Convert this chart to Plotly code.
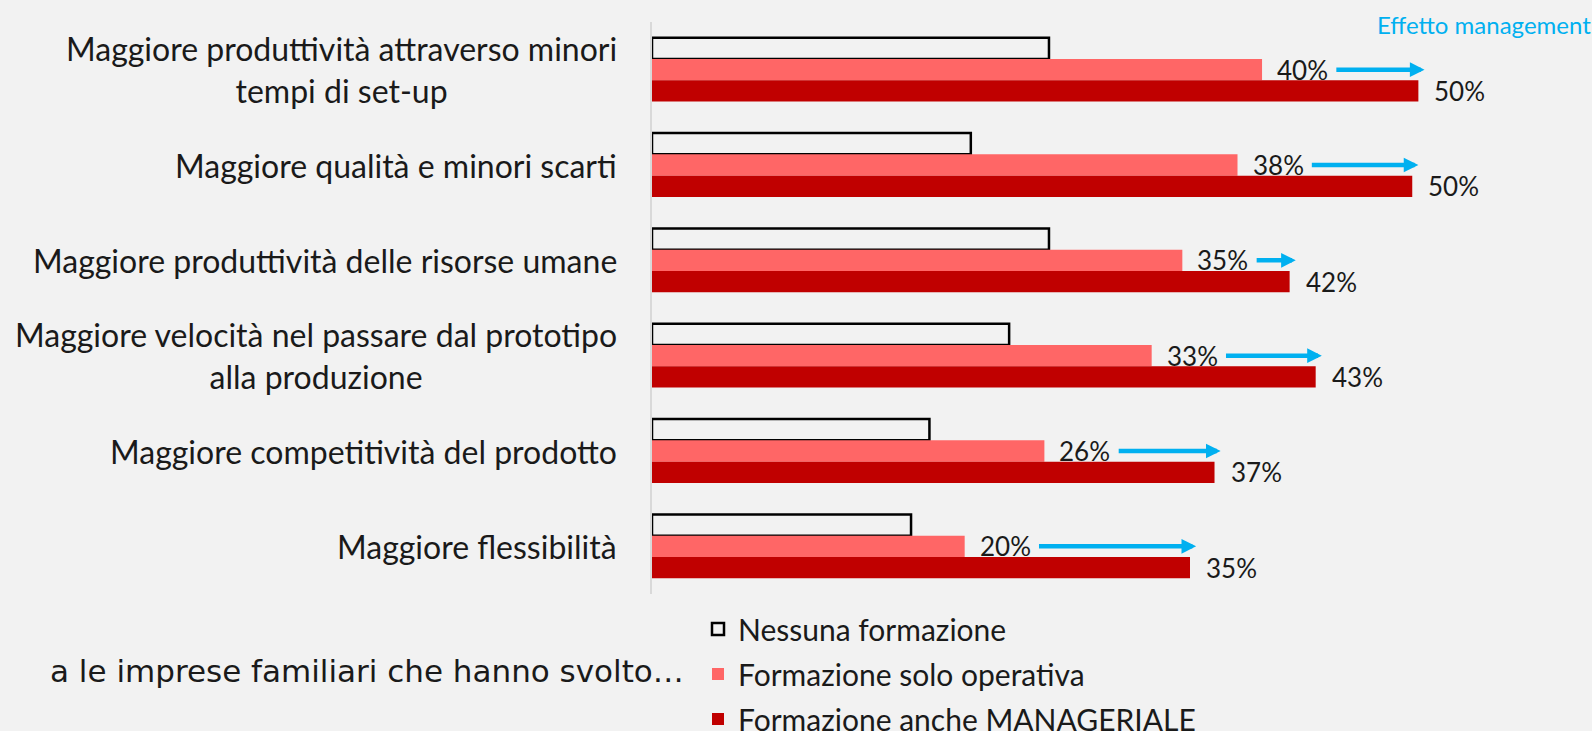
import plotly.graph_objects as go

categories = [
    "Maggiore produttività attraverso minori<br>tempi di set-up",
    "Maggiore qualità e minori scarti",
    "Maggiore produttività delle risorse umane",
    "Maggiore velocità nel passare dal prototipo<br>alla produzione",
    "Maggiore competitività del prodotto",
    "Maggiore flessibilità",
]
nessuna = [25.9, 20.8, 25.9, 23.3, 18.1, 16.9]
operativa = [39.8, 38.2, 34.6, 32.6, 25.6, 20.4]
manageriale = [50.0, 49.6, 41.6, 43.3, 36.7, 35.1]
series_names = ["Nessuna formazione", "Formazione solo operativa", "Formazione anche MANAGERIALE"]
effect_title = "Effetto management"
subtitle = "a le imprese familiari che hanno svolto…"

BG = "#F2F2F2"
FONT = "Lato"
TXT = "#1a1a1a"
CYAN = "#00B0F0"
BARGAP = 0.33
W = (1 - BARGAP) / 3

fig = go.Figure()
fig.add_trace(go.Bar(y=categories, x=nessuna, orientation="h", name=series_names[0],
                     marker=dict(color=BG, line=dict(color="#000000", width=2.5)),
                     legendgroup="a", hoverinfo="x"))
fig.add_trace(go.Bar(y=categories, x=operativa, orientation="h", name=series_names[1],
                     marker=dict(color="#FF6666", line=dict(width=0)),
                     legendgroup="b", hoverinfo="x"))
fig.add_trace(go.Bar(y=categories, x=manageriale, orientation="h", name=series_names[2],
                     marker=dict(color="#C00000", line=dict(width=0)),
                     legendgroup="c", hoverinfo="x"))

ann = []
for i, cat in enumerate(categories):
    # category label
    ann.append(dict(x=0, y=i, xref="x", yref="y", text=cat, showarrow=False,
                    xanchor="right", yanchor="middle", align="center", xshift=-33,
                    font=dict(family=FONT, size=32, color=TXT)))
    # operativa label
    ann.append(dict(x=operativa[i], y=i, xref="x", yref="y", text=f"{operativa[i]:.0f}%",
                    showarrow=False, xanchor="left", yanchor="middle", xshift=13,
                    font=dict(family=FONT, size=26, color=TXT)))
    # manageriale label
    ann.append(dict(x=manageriale[i], y=i + W, xref="x", yref="y", text=f"{manageriale[i]:.0f}%",
                    showarrow=False, xanchor="left", yanchor="middle", xshift=14,
                    font=dict(family=FONT, size=26, color=TXT)))
    # arrow
    ann.append(dict(x=manageriale[i] + 0.4, y=i, xref="x", yref="y",
                    ax=operativa[i] + 4.75, ay=i, axref="x", ayref="y",
                    text="", showarrow=True, arrowhead=2, arrowsize=0.65,
                    arrowwidth=4.5, arrowcolor=CYAN, standoff=0))

L, R, T, B = 652, 51, 22, 137
PW, PH = 1592 - L - R, 731 - T - B
ann.append(dict(x=(1593 - L) / PW, y=(731 - 25 - B) / PH, xref="paper", yref="paper",
                text=effect_title, showarrow=False, xanchor="right", yanchor="middle",
                font=dict(family=FONT, size=24, color=CYAN)))
ann.append(dict(x=(686 - L) / PW, y=(731 - 671 - B) / PH, xref="paper", yref="paper",
                text=subtitle, showarrow=False, xanchor="right", yanchor="middle",
                font=dict(family="DejaVu Sans", size=31, color=TXT)))

fig.update_layout(
    width=1592, height=731,
    margin=dict(l=L, r=R, t=T, b=B, pad=0, autoexpand=False),
    paper_bgcolor=BG, plot_bgcolor=BG,
    barmode="group", bargap=BARGAP, bargroupgap=0,
    showlegend=True,
    legend=dict(orientation="v", xref="container", yref="container",
                x=698 / 1592, y=1 - 603 / 731, xanchor="left", yanchor="top",
                font=dict(family=FONT, size=30, color=TXT), tracegroupgap=3,
                bgcolor="rgba(0,0,0,0)", itemwidth=30, traceorder="grouped"),
    xaxis=dict(range=[0, 58], showgrid=False, zeroline=False, showticklabels=False,
               showline=False, ticks=""),
    yaxis=dict(autorange="reversed", showgrid=False, zeroline=False, showticklabels=False,
               showline=True, linecolor="#D9D9D9", linewidth=1.5, ticks=""),
    annotations=ann,
    font=dict(family=FONT, color=TXT),
)

fig.write_html("out.html", config={"displayModeBar": False},
               post_script="document.body.style.margin='0';")
